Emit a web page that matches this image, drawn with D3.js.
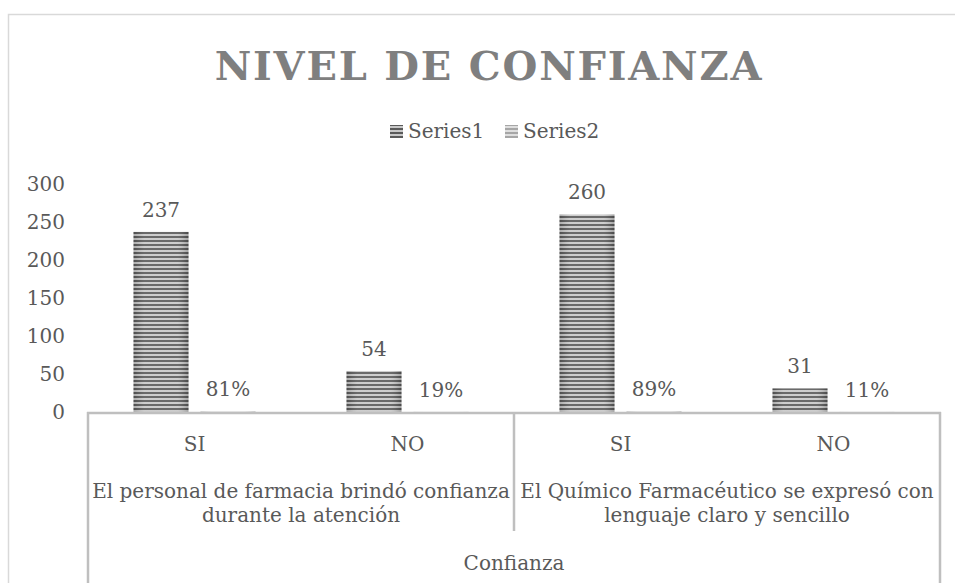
<!DOCTYPE html>
<html>
<head>
<meta charset="utf-8">
<script src="https://cdnjs.cloudflare.com/ajax/libs/d3/7.8.5/d3.min.js"></script>
<style>
  body { margin: 0; background: #fff; }
  svg text { font-family: "DejaVu Serif", serif; fill: #595959; }
</style>
</head>
<body>
<div id="chart"></div>
<script>
// Chart data
const categories = ["SI", "NO", "SI", "NO"];
const groups = [
    ["El personal de farmacia brindó confianza", "durante la atención"],
    ["El Químico Farmacéutico se expresó con", "lenguaje claro y sencillo"]
];
const topLevel = "Confianza";
const seriesNames = ["Series1", "Series2"];
const series1 = [237, 54, 260, 31];
const series2 = [0.81, 0.19, 0.89, 0.11];
const series2Labels = ["81%", "19%", "89%", "11%"];
const yTicks = [0, 50, 100, 150, 200, 250, 300];

(function () {
    const width = 955, height = 583;
    const plot = { left: 88, right: 940, top: 184, bottom: 412 };
    const fs = "20px";

    const svg = d3.select("#chart").append("svg")
        .attr("width", width)
        .attr("height", height);

    // Striped patterns for the bars
    const defs = svg.append("defs");
    function stripes(id, dark, light) {
        const p = defs.append("pattern")
            .attr("id", id)
            .attr("patternUnits", "userSpaceOnUse")
            .attr("width", 8).attr("height", 4);
        p.append("rect").attr("width", 8).attr("height", 4).attr("fill", light);
        p.append("rect").attr("width", 8).attr("height", 2).attr("fill", dark);
    }
    stripes("s1", "#5a5a5a", "#c8c8c8");
    stripes("s2", "#a6a6a6", "#dedede");

    const shade = defs.append("linearGradient").attr("id", "shade")
        .attr("x1", "0%").attr("x2", "100%");
    shade.append("stop").attr("offset", "0%").attr("stop-color", "#000").attr("stop-opacity", 0.15);
    shade.append("stop").attr("offset", "20%").attr("stop-color", "#fff").attr("stop-opacity", 0.1);
    shade.append("stop").attr("offset", "80%").attr("stop-color", "#fff").attr("stop-opacity", 0.1);
    shade.append("stop").attr("offset", "100%").attr("stop-color", "#000").attr("stop-opacity", 0.2);

    // Outer chart border (left and top only visible)
    svg.append("path")
        .attr("d", `M8.5,${height} V14.5 H${width}`)
        .attr("fill", "none")
        .attr("stroke", "#d9d9d9")
        .attr("stroke-width", 1.5);

    // Title
    svg.append("text")
        .attr("x", 489).attr("y", 80)
        .attr("text-anchor", "middle")
        .style("font-size", "40px")
        .style("font-weight", "bold")
        .style("letter-spacing", "1.8px")
        .style("fill", "#7f7f7f")
        .text("NIVEL DE CONFIANZA");

    // Legend
    const legend = svg.append("g");
    const legendX = [390, 505];
    seriesNames.forEach((name, i) => {
        legend.append("rect")
            .attr("x", legendX[i]).attr("y", 125)
            .attr("width", 13).attr("height", 13)
            .attr("fill", i === 0 ? "url(#s1)" : "url(#s2)");
        legend.append("text")
            .attr("x", legendX[i] + 18).attr("y", 138)
            .style("font-size", fs)
            .text(name);
    });

    // Scales
    const y = d3.scaleLinear().domain([0, 300]).range([plot.bottom, plot.top]);
    const x0 = d3.scaleBand().domain(d3.range(categories.length))
        .range([plot.left, plot.right]).padding(0);
    const clusterW = 122;
    const x1 = d3.scaleBand().domain([0, 1])
        .range([0, clusterW]).paddingInner(2 - clusterW / 67);
    const offset = (x0.bandwidth() - clusterW) / 2;

    // Y axis labels
    svg.append("g").selectAll("text")
        .data(yTicks)
        .enter().append("text")
        .attr("x", 65)
        .attr("y", d => y(d))
        .attr("dy", "0.35em")
        .attr("text-anchor", "end")
        .style("font-size", fs)
        .text(d => d);

    // Bars
    const allSeries = [series1, series2];
    allSeries.forEach((vals, s) => {
        const g = svg.append("g");
        g.selectAll("rect.bar")
            .data(vals)
            .enter().append("rect")
            .attr("class", "bar")
            .attr("x", (d, i) => x0(i) + offset + x1(s))
            .attr("y", d => y(d))
            .attr("width", x1.bandwidth())
            .attr("height", d => y(0) - y(d))
            .attr("fill", s === 0 ? "url(#s1)" : "url(#s2)");
        g.selectAll("rect.shade")
            .data(vals)
            .enter().append("rect")
            .attr("class", "shade")
            .attr("x", (d, i) => x0(i) + offset + x1(s))
            .attr("y", d => y(d))
            .attr("width", x1.bandwidth())
            .attr("height", d => y(0) - y(d))
            .attr("fill", "url(#shade)");
        g.selectAll("text")
            .data(vals)
            .enter().append("text")
            .attr("x", (d, i) => x0(i) + offset + x1(s) + x1.bandwidth() / 2)
            .attr("y", d => y(d) - 15)
            .attr("text-anchor", "middle")
            .style("font-size", fs)
            .text((d, i) => s === 0 ? d : series2Labels[i]);
    });

    // Multi-level category axis
    const axisColor = "#bfbfbf";
    const groupEdge = x0(2);
    svg.append("line")
        .attr("x1", plot.left - 1).attr("x2", plot.right + 1)
        .attr("y1", plot.bottom + 1).attr("y2", plot.bottom + 1)
        .attr("stroke", axisColor).attr("stroke-width", 2.5);
    [[plot.left, height], [groupEdge, 531], [plot.right, height]].forEach(([xx, y2]) => {
        svg.append("line")
            .attr("x1", xx).attr("x2", xx)
            .attr("y1", plot.bottom).attr("y2", y2)
            .attr("stroke", axisColor).attr("stroke-width", 2.5);
    });

    svg.append("g").selectAll("text")
        .data(categories)
        .enter().append("text")
        .attr("x", (d, i) => x0(i) + x0.bandwidth() / 2)
        .attr("y", 451)
        .attr("text-anchor", "middle")
        .style("font-size", fs)
        .text(d => d);

    groups.forEach((lines, gi) => {
        const cx = (x0(gi * 2) + x0(gi * 2 + 1) + x0.bandwidth()) / 2;
        lines.forEach((line, li) => {
            svg.append("text")
                .attr("x", cx)
                .attr("y", 498 + li * 24)
                .attr("text-anchor", "middle")
                .style("font-size", fs)
                .text(line);
        });
    });

    svg.append("text")
        .attr("x", (plot.left + plot.right) / 2)
        .attr("y", 570)
        .attr("text-anchor", "middle")
        .style("font-size", fs)
        .text(topLevel);
})();
</script>
</body>
</html>
